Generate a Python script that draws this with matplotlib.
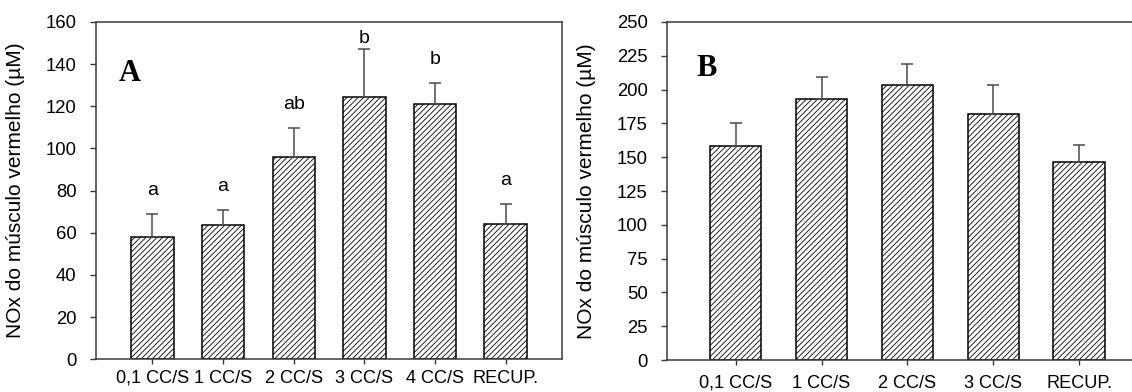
import numpy as np
import matplotlib
matplotlib.use("Agg")
import matplotlib.pyplot as plt

plt.rcParams['font.family'] = ['Liberation Sans', 'DejaVu Sans']
plt.rcParams['hatch.linewidth'] = 0.6
plt.rcParams['hatch.color'] = 'black'

# painel A
labels_a = ['0,1 CC/S', '1 CC/S', '2 CC/S', '3 CC/S', '4 CC/S', 'RECUP.']
mean_a = [57.8, 63.5, 95.8, 124.5, 120.9, 64.4]
err_a = [10.9, 7.2, 13.7, 22.8, 10.0, 9.5]
sig_a = ['a', 'a', 'ab', 'b', 'b', 'a']

# painel B
labels_b = ['0,1 CC/S', '1 CC/S', '2 CC/S', '3 CC/S', 'RECUP.']
mean_b = [158.2, 192.7, 203.1, 181.6, 146.1]
err_b = [17.2, 16.8, 15.8, 21.5, 12.8]

ylabel = 'NOx do músculo vermelho (µM)'
SPINE = '#3a3a3a'
ERR = '#4a4a4a'

fig = plt.figure(figsize=(11.32, 3.92), dpi=100)
axA = fig.add_axes([0.0848, 0.0834, 0.4117, 0.8605])
axB = fig.add_axes([0.5892, 0.0816, 0.4249, 0.8623])


def draw(ax, labels, mean, err, ymax, step, xpad):
    x = np.arange(len(labels))
    ax.bar(x, mean, width=0.6, color='white', edgecolor='black',
           linewidth=1.1, hatch='//////', zorder=2)
    ax.errorbar(x, mean, yerr=[np.zeros(len(err)), err], fmt='none',
                ecolor=ERR, elinewidth=1.1, capsize=4, capthick=1.1, zorder=3)
    ax.set_xlim(-0.8, len(labels) - 0.2)
    ax.set_ylim(0, ymax)
    ax.set_yticks(np.arange(0, ymax + 1, step))
    ax.set_xticks(x)
    ax.set_xticklabels(labels)
    ax.tick_params(axis='y', direction='out', length=4, width=1,
                   color=SPINE, labelsize=13.3, pad=10)
    ax.tick_params(axis='x', direction='out', length=3.5, width=1,
                   color=SPINE, labelsize=13.1, pad=xpad)
    for s in ax.spines.values():
        s.set_color(SPINE)
        s.set_linewidth(1.1)
    ax.set_ylabel(ylabel, fontsize=15)
    return x


xa = draw(axA, labels_a, mean_a, err_a, 160, 20, 4)
for xi, m, e, s in zip(xa, mean_a, err_a, sig_a):
    axA.text(xi, min(m + e + 9, 150), s, ha='center', va='baseline',
             fontsize=14)
axA.text(0.049, 0.825, 'A', transform=axA.transAxes, fontsize=22,
         fontweight='bold', family='Liberation Serif', va='baseline')
axA.yaxis.set_label_coords(-0.152, 0.5)

draw(axB, labels_b, mean_b, err_b, 250, 25, 7)
axB.spines['right'].set_visible(False)
axB.text(0.062, 0.84, 'B', transform=axB.transAxes, fontsize=22,
         fontweight='bold', family='Liberation Serif', va='baseline')
axB.yaxis.set_label_coords(-0.148, 0.5)

fig.savefig('out.png', dpi=100)
